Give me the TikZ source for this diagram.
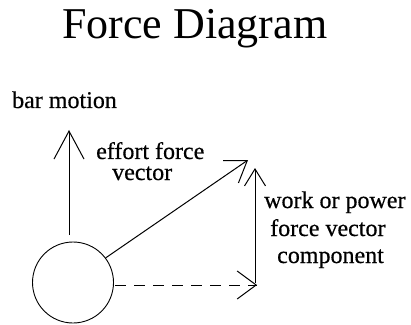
\documentclass[tikz,border=0pt]{standalone}
\usepackage{fontspec}
\setmainfont{Liberation Serif}
\newfontfamily\lblfont{Liberation Serif}[FakeBold=0.5]
\usetikzlibrary{arrows.meta}
\begin{document}
\begin{tikzpicture}[x=1pt,y=1pt,
  lbl/.style={anchor=base west,inner sep=0pt,font=\lblfont\fontsize{24}{21}\selectfont},
  vec/.style={line width=1pt},
  barb/.style 2 args={-{Straight Barb[length=#1pt,width=#2pt,line width=1pt]}}]
\useasboundingbox (0,0) rectangle (411,324);
\node[anchor=base west,inner sep=0pt,font=\fontsize{44}{44}\selectfont] (title) at (62,285) {Force Diagram};
\node[draw,circle,line width=0.9pt,minimum size=81pt,inner sep=0pt] (c) at (73,41.5) {};
\node[lbl] (bm) at (12,216) {bar motion};
\node[lbl,align=left] (ef) at (96,144) {effort force\\\hspace*{16pt}vector};
\node[lbl] (w1) at (264,116) {work or power};
\node[lbl] (w2) at (270,88) {force vector};
\node[lbl] (w3) at (277,61) {component};
\coordinate (bm0) at (69,89);
\coordinate (bm1) at (69,194);
\coordinate (d0) at (c.37);
\coordinate (d1) at (248,164);
\coordinate (v0) at (255,41);
\coordinate (v1) at (255,156);
\coordinate (h0) at (115,39);
\coordinate (h1) at (257,39);
\coordinate (h2) at (256,39);
\draw[vec,barb={28}{30}] (bm0) -- (bm1);
\draw[vec,barb={20}{27}] (d0) -- (d1);
\draw[vec,barb={17}{21}] (v0) -- (v1);
\draw[vec,dash pattern=on 11pt off 8pt] (h0) -- (h1);
\draw[vec,barb={19}{28}] (h2) -- (h1);
\end{tikzpicture}
\end{document}
